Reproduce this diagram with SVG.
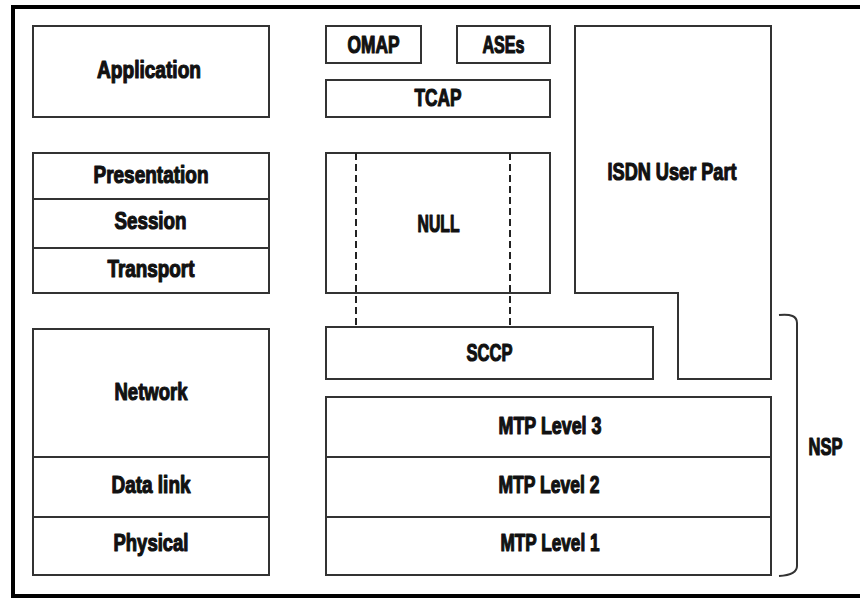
<svg xmlns="http://www.w3.org/2000/svg" width="860" height="598" viewBox="0 0 860 598">
  <style>
    .box { fill: #ffffff; stroke: #333333; stroke-width: 2; }
    .div { fill: none; stroke: #333333; stroke-width: 2; }
    .dash { fill: none; stroke: #222222; stroke-width: 2; stroke-dasharray: 7 4; }
    .lbl { font-family: "Liberation Sans", Arial, sans-serif; font-weight: bold; font-size: 24px; fill: #111111; stroke: #111111; stroke-width: 1.2; stroke-linejoin: round; text-anchor: middle; }
  </style>
  <rect x="0" y="0" width="860" height="598" fill="#ffffff"/>
  <!-- outer frame, open on the right edge -->
  <path d="M866,7 L13,7 L13,596 L866,596" fill="none" stroke="#000000" stroke-width="4"/>

  <!-- OSI reference stack -->
  <g id="application">
    <rect class="box" x="33" y="26" width="236" height="91"/>
    <text class="lbl" x="149" y="78" textLength="104" lengthAdjust="spacingAndGlyphs">Application</text>
  </g>
  <g id="upper-layers">
    <rect class="box" x="33" y="153" width="236" height="140"/>
    <line class="div" x1="33" y1="199" x2="269" y2="199"/>
    <line class="div" x1="33" y1="248" x2="269" y2="248"/>
    <text class="lbl" x="151" y="183" textLength="115" lengthAdjust="spacingAndGlyphs">Presentation</text>
    <text class="lbl" x="150.5" y="229" textLength="72" lengthAdjust="spacingAndGlyphs">Session</text>
    <text class="lbl" x="151" y="277" textLength="87" lengthAdjust="spacingAndGlyphs">Transport</text>
  </g>
  <g id="lower-layers">
    <rect class="box" x="33" y="329" width="236" height="246"/>
    <line class="div" x1="33" y1="457" x2="269" y2="457"/>
    <line class="div" x1="33" y1="517" x2="269" y2="517"/>
    <text class="lbl" x="151" y="400" textLength="73" lengthAdjust="spacingAndGlyphs">Network</text>
    <text class="lbl" x="151" y="493" textLength="79" lengthAdjust="spacingAndGlyphs">Data link</text>
    <text class="lbl" x="151" y="551" textLength="75" lengthAdjust="spacingAndGlyphs">Physical</text>
  </g>

  <!-- SS7 stack -->
  <g id="omap">
    <rect class="box" x="326" y="26" width="95" height="37"/>
    <text class="lbl" x="373.5" y="53" textLength="52" lengthAdjust="spacingAndGlyphs">OMAP</text>
  </g>
  <g id="ases">
    <rect class="box" x="457" y="26" width="93" height="37"/>
    <text class="lbl" x="503.5" y="53" textLength="42" lengthAdjust="spacingAndGlyphs">ASEs</text>
  </g>
  <g id="tcap">
    <rect class="box" x="326" y="80" width="224" height="37"/>
    <text class="lbl" x="438" y="106" textLength="47" lengthAdjust="spacingAndGlyphs">TCAP</text>
  </g>
  <g id="null">
    <rect class="box" x="326" y="153" width="224" height="140"/>
    <text class="lbl" x="438.5" y="232" textLength="42" lengthAdjust="spacingAndGlyphs">NULL</text>
  </g>
  <g id="isup">
    <path class="box" d="M575,26 L771,26 L771,379 L678,379 L678,293 L575,293 Z"/>
    <text class="lbl" x="672" y="180" textLength="129" lengthAdjust="spacingAndGlyphs">ISDN User Part</text>
  </g>
  <g id="sccp">
    <rect class="box" x="326" y="327" width="327" height="52"/>
    <text class="lbl" x="489.5" y="361" textLength="46" lengthAdjust="spacingAndGlyphs">SCCP</text>
  </g>
  <g id="mtp">
    <rect class="box" x="326" y="397" width="445" height="178"/>
    <line class="div" x1="326" y1="457" x2="771" y2="457"/>
    <line class="div" x1="326" y1="517" x2="771" y2="517"/>
    <text class="lbl" x="550" y="434" textLength="103" lengthAdjust="spacingAndGlyphs">MTP Level 3</text>
    <text class="lbl" x="549" y="493" textLength="101" lengthAdjust="spacingAndGlyphs">MTP Level 2</text>
    <text class="lbl" x="550" y="551" textLength="99" lengthAdjust="spacingAndGlyphs">MTP Level 1</text>
  </g>
  <g id="nsp">
    <path class="div" d="M779,315 Q797,313 797,323 L797,566 Q797,575 779,576"/>
    <text class="lbl" x="825.5" y="455" textLength="34" lengthAdjust="spacingAndGlyphs">NSP</text>
  </g>

  <!-- dashed guides through the NULL layer -->
  <g id="connectors">
    <line class="dash" x1="356" y1="153" x2="356" y2="327"/>
    <line class="dash" x1="510" y1="153" x2="510" y2="327"/>
  </g>
</svg>
